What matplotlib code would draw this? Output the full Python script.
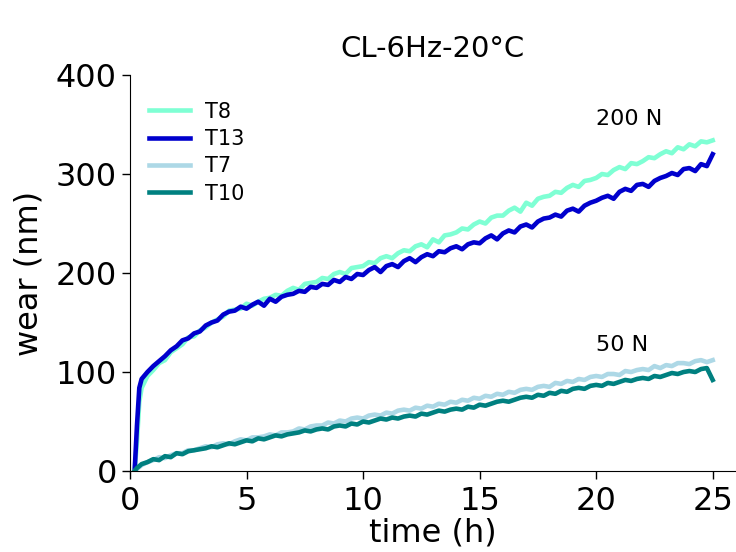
import numpy as np
import matplotlib
matplotlib.use('Agg')
import matplotlib.pyplot as plt

# time (h): first row is the start-up, then quarter hours
time_h = [0.2, 0.3, 0.4, 0.5, 0.75,
          1, 1.25, 1.5, 1.75, 2, 2.25, 2.5, 2.75, 3, 3.25, 3.5, 3.75,
          4, 4.25, 4.5, 4.75, 5, 5.25, 5.5, 5.75, 6, 6.25, 6.5, 6.75,
          7, 7.25, 7.5, 7.75, 8, 8.25, 8.5, 8.75, 9, 9.25, 9.5, 9.75,
          10, 10.25, 10.5, 10.75, 11, 11.25, 11.5, 11.75, 12, 12.25, 12.5, 12.75,
          13, 13.25, 13.5, 13.75, 14, 14.25, 14.5, 14.75, 15, 15.25, 15.5, 15.75,
          16, 16.25, 16.5, 16.75, 17, 17.25, 17.5, 17.75, 18, 18.25, 18.5, 18.75,
          19, 19.25, 19.5, 19.75, 20, 20.25, 20.5, 20.75, 21, 21.25, 21.5, 21.75,
          22, 22.25, 22.5, 22.75, 23, 23.25, 23.5, 23.75, 24, 24.25, 24.5, 24.75,
          25]

# 200 N
T8 = [0, 30, 70, 84, 96,
      102, 109, 112, 120, 124, 128, 135, 136, 142, 145, 150, 153,
      156, 162, 163, 164, 169, 167, 171, 174, 175, 178, 177, 182,
      185, 183, 189, 190, 191, 195, 194, 199, 201, 199, 205, 206,
      207, 211, 210, 215, 217, 215, 220, 223, 222, 227, 229, 226,
      234, 231, 238, 239, 241, 245, 244, 249, 252, 250, 256, 258,
      258, 263, 266, 262, 271, 268, 275, 277, 278, 282, 281, 286,
      289, 287, 293, 294, 296, 300, 299, 304, 307, 305, 311, 310,
      313, 317, 316, 320, 323, 321, 327, 325, 330, 328, 333, 332,
      334]
T13 = [0, 46, 84, 93, 100,
       106, 111, 116, 122, 126, 132, 134, 139, 141, 147, 150, 152,
       158, 161, 162, 166, 164, 168, 171, 167, 174, 171, 176, 178,
       179, 182, 181, 186, 185, 189, 188, 193, 191, 196, 194, 199,
       198, 203, 206, 201, 207, 209, 206, 212, 215, 211, 216, 219,
       217, 222, 221, 225, 227, 224, 229, 231, 230, 235, 238, 234,
       240, 243, 241, 247, 249, 246, 252, 255, 256, 259, 257, 263,
       265, 262, 268, 271, 273, 276, 278, 275, 282, 285, 283, 289,
       290, 287, 293, 296, 298, 301, 299, 305, 306, 303, 310, 308,
       320]

# 50 N
T7 = [0, 2, 4, 6, 9,
      11, 14, 13, 16, 18, 18, 21, 21, 23, 25, 24, 27,
      28, 27, 30, 32, 31, 34, 34, 35, 37, 36, 39, 39,
      40, 43, 42, 45, 46, 46, 49, 48, 51, 50, 53, 54,
      53, 56, 57, 56, 59, 58, 61, 62, 61, 64, 63, 66,
      65, 68, 67, 70, 69, 72, 71, 74, 73, 76, 75, 78,
      77, 80, 79, 82, 83, 82, 85, 86, 85, 89, 88, 91,
      90, 93, 92, 95, 96, 95, 98, 98, 97, 101, 100, 102,
      103, 102, 106, 104, 107, 106, 109, 109, 108, 111, 112, 110,
      112]
T10 = [0, 3, 5, 7, 9,
       12, 11, 15, 14, 18, 17, 20, 21, 22, 23, 25, 24,
       26, 28, 27, 29, 31, 30, 33, 32, 34, 36, 35, 37,
       38, 39, 41, 40, 42, 43, 42, 45, 46, 45, 48, 47,
       50, 49, 51, 53, 52, 54, 53, 55, 56, 55, 58, 57,
       59, 61, 60, 62, 63, 62, 65, 64, 67, 66, 68, 70,
       71, 70, 72, 74, 75, 74, 77, 76, 79, 78, 81, 80,
       83, 84, 83, 86, 87, 86, 89, 88, 90, 92, 91, 93,
       94, 93, 96, 95, 97, 99, 98, 100, 101, 100, 103, 104,
       92]

series = [('T8', T8, 'aquamarine'),
          ('T13', T13, 'mediumblue'),
          ('T7', T7, 'lightblue'),
          ('T10', T10, 'teal')]

fig = plt.figure(figsize=(7.36, 5.52), dpi=100)
ax = fig.add_axes([0.1766, 0.1467, 0.8234, 0.7174])

for name, vals, col in series:
    ax.plot(time_h, vals, color=col, lw=3.3, label=name)

ax.set_xlim(0, 26)
ax.set_ylim(0, 400)
ax.set_xticks([0, 5, 10, 15, 20, 25])
ax.set_yticks([0, 100, 200, 300, 400])
ax.tick_params(labelsize=23, length=6, width=1)
ax.tick_params(axis='x', pad=5)
ax.spines['top'].set_visible(False)
ax.spines['right'].set_visible(False)

ax.set_xlabel('time (h)', fontsize=23, labelpad=0)
ax.set_ylabel('wear (nm)', fontsize=23, labelpad=8)

ax.text(20.0, 356, '200 N', fontsize=16, va='center')
ax.text(20.0, 127, '50 N', fontsize=16, va='center')

fig.text(0.587, 0.897, 'CL-6Hz-20°C', fontsize=21, ha='center', va='baseline')

ax.legend(loc='upper left', bbox_to_anchor=(0.0, 0.98), frameon=False,
          fontsize=15, handlelength=2.0, handletextpad=0.7, labelspacing=0.35)

fig.savefig('out.png', dpi=100)
